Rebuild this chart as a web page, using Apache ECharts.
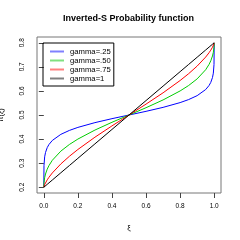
<!DOCTYPE html>
<html>
<head>
<meta charset="utf-8">
<script src="https://cdn.jsdelivr.net/npm/echarts@6/dist/echarts.min.js"></script>
<style>html,body{margin:0;padding:0;background:#fff}#c{width:240px;height:240px}</style>
</head>
<body>
<div id="c"></div>
<script>
var xs = [0, 0.001, 0.005, 0.01, 0.02, 0.03, 0.05, 0.1, 0.15, 0.2, 0.3, 0.4, 0.5, 0.6, 0.7, 0.8, 0.85, 0.9, 0.95, 0.97, 0.98, 0.99, 0.995, 0.999, 1];
var gamma25 = [0.2, 0.2906, 0.3262, 0.3444, 0.3646, 0.3773, 0.3943, 0.4196, 0.4359, 0.4485, 0.4683, 0.4848, 0.5, 0.5152, 0.5317, 0.5515, 0.5641, 0.5804, 0.6057, 0.6227, 0.6354, 0.6556, 0.6738, 0.7094, 0.8];
var gamma50 = [0.2, 0.2184, 0.2397, 0.2548, 0.2750, 0.2897, 0.3120, 0.35, 0.3775, 0.4, 0.4374, 0.4697, 0.5, 0.5303, 0.5626, 0.6, 0.6225, 0.65, 0.6880, 0.7103, 0.7250, 0.7452, 0.7603, 0.7816, 0.8];
var gamma75 = [0.2, 0.2034, 0.2111, 0.2185, 0.2307, 0.2412, 0.2594, 0.2968, 0.3284, 0.3567, 0.4078, 0.4547, 0.5, 0.5453, 0.5922, 0.6433, 0.6716, 0.7032, 0.7406, 0.7588, 0.7693, 0.7815, 0.7889, 0.7966, 0.8];
var gamma1 = [0.2, 0.2006, 0.203, 0.206, 0.212, 0.218, 0.23, 0.26, 0.29, 0.32, 0.38, 0.44, 0.5, 0.56, 0.62, 0.68, 0.71, 0.74, 0.77, 0.782, 0.788, 0.794, 0.797, 0.7994, 0.8];
var seriesNames = ['gamma=.25', 'gamma=.50', 'gamma=.75', 'gamma=1'];
var xTicks = [0, 0.2, 0.4, 0.6, 0.8, 1.0];
var yTicks = [0.2, 0.3, 0.4, 0.5, 0.6, 0.7, 0.8];

var colors = ['#0000ff', '#00cc00', '#ff0000', '#000000'];
var legendColors = ['#8080ff', '#80e080', '#ff8080', '#808080'];
var allY = [gamma25, gamma50, gamma75, gamma1];
function pairs(ys) { return xs.map(function (x, i) { return [x, ys[i]]; }); }

var font = 'Liberation Sans, Arial, sans-serif';
var chart = echarts.init(document.getElementById('c'), null, {renderer: 'canvas'});
chart.setOption({
  animation: false,
  title: {
    text: 'Inverted-S Probability function',
    left: 63, top: 14, padding: 0,
    textStyle: {fontFamily: font, fontSize: 9, fontWeight: 'bold', color: '#000'}
  },
  grid: {left: 37, right: 19, top: 37, bottom: 47, show: true, borderColor: '#777', borderWidth: 1,
    backgroundColor: 'transparent', containLabel: false, outerBoundsMode: 'none'},
  xAxis: {
    type: 'value', min: -0.04, max: 1.04,
    name: 'ξ', nameLocation: 'middle', nameGap: 31,
    nameTextStyle: {fontFamily: font, fontSize: 7.5, color: '#000'},
    axisLine: {show: false},
    splitLine: {show: false},
    axisTick: {show: true, length: 5, customValues: xTicks, lineStyle: {color: '#444'}},
    axisLabel: {customValues: xTicks, margin: 10, fontFamily: font, fontSize: 6.5, color: '#000',
      formatter: function (v) { return v.toFixed(1); }}
  },
  yAxis: {
    type: 'value', min: 0.176, max: 0.824,
    name: 'π(ξ)', nameLocation: 'middle', nameGap: 32, nameRotate: 90,
    nameTextStyle: {fontFamily: font, fontSize: 7.5, color: '#000'},
    axisLine: {show: false},
    splitLine: {show: false},
    axisTick: {show: true, length: 5, customValues: yTicks, lineStyle: {color: '#444'}},
    axisLabel: {customValues: yTicks, rotate: 90, margin: 11, fontFamily: font, fontSize: 6.5, color: '#000',
      formatter: function (v) { return v.toFixed(1); }}
  },
  legend: {
    orient: 'vertical', left: 43, top: 43,
    padding: [4, 3, 3, 7],
    borderColor: '#000', borderWidth: 1,
    itemGap: 0, itemWidth: 14, itemHeight: 2, icon: 'rect',
    textStyle: {fontFamily: font, fontSize: 7.7, color: '#000', lineHeight: 9, padding: [0, 0, 0, 1]},
    data: seriesNames.map(function (n, i) { return {name: n, itemStyle: {color: legendColors[i]}}; })
  },
  series: allY.map(function (ys, i) {
    return {
      name: seriesNames[i], type: 'line', data: pairs(ys),
      showSymbol: false, symbol: 'none',
      lineStyle: {width: 1, color: colors[i]}, itemStyle: {color: colors[i]}
    };
  })
});
</script>
</body>
</html>
